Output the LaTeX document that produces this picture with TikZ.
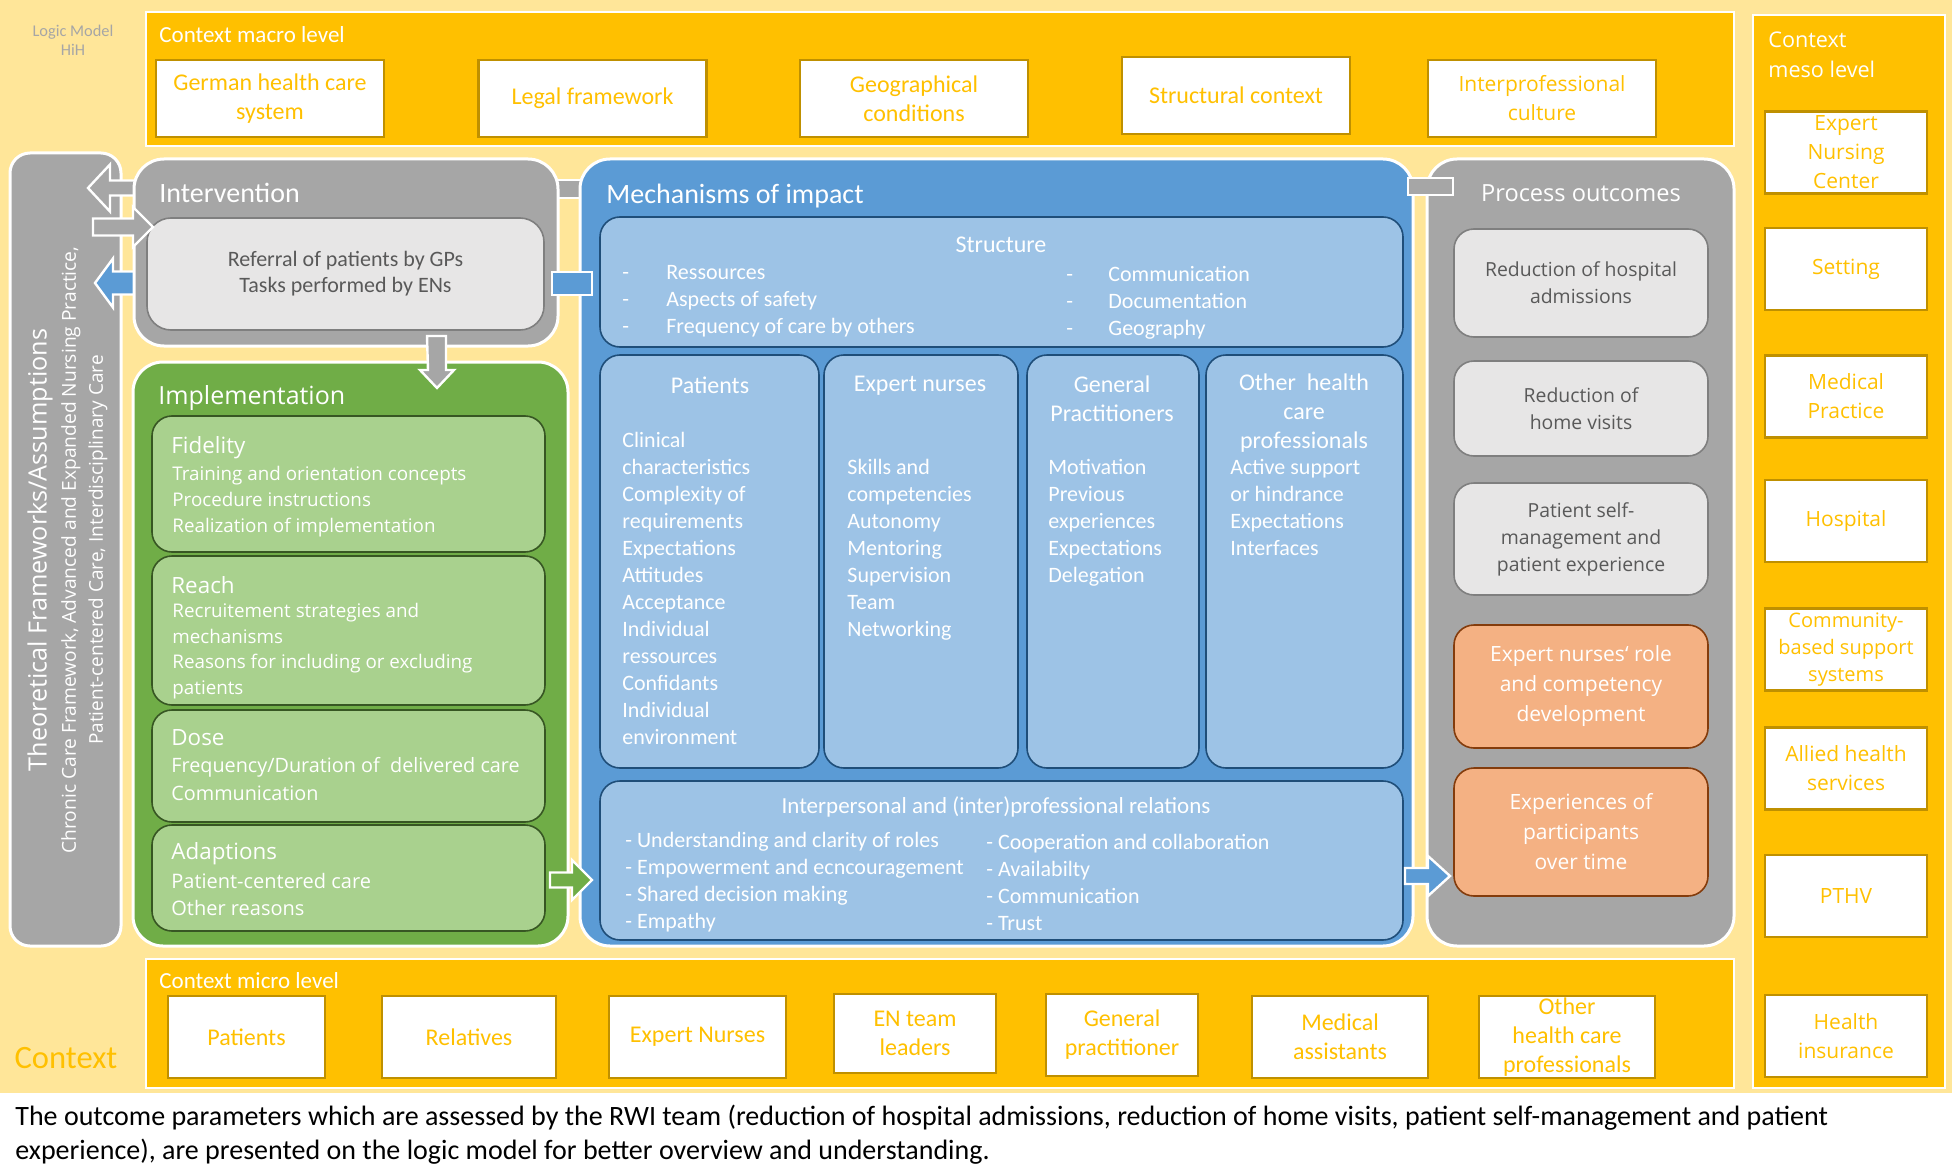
\documentclass[tikz,border=0pt]{standalone}
\usepackage{fontspec}
\setmainfont{Carlito}
\newfontfamily\segoe{Open Sans}
\usetikzlibrary{fit, positioning}

\definecolor{ctxpale}{HTML}{FFE699}
\definecolor{ctxgold}{HTML}{FFC000}
\definecolor{ctxedge}{HTML}{BF9000}
\definecolor{intgray}{HTML}{A6A6A6}
\definecolor{inngray}{HTML}{E7E6E6}
\definecolor{innedge}{HTML}{7F7F7F}
\definecolor{txtgray}{HTML}{595959}
\definecolor{mechblue}{HTML}{5B9BD5}
\definecolor{mechpale}{HTML}{9DC3E6}
\definecolor{mechedge}{HTML}{1F4E79}
\definecolor{impgreen}{HTML}{70AD47}
\definecolor{imppale}{HTML}{A9D18E}
\definecolor{impedge}{HTML}{375623}
\definecolor{outpeach}{HTML}{F4B183}
\definecolor{outedge}{HTML}{843C0C}

\newcommand{\fsz}[2]{\fontsize{#1}{#2}\selectfont}

\tikzset{
  ctxframe/.style={fill=ctxgold, draw=white, line width=1pt},
  ctxbox/.style={fill=white, draw=ctxedge, line width=1.2pt, text=ctxgold, align=center},
  macrobox/.style={ctxbox, minimum width=114pt, minimum height=38.5pt, font=\fsz{12}{14.5}},
  mesobox/.style={ctxbox, minimum width=81pt, minimum height=41pt, font=\segoe\fsz{10.5}{14.5}},
  microbox/.style={ctxbox, minimum height=41pt, font=\fsz{12}{14.5}},
  bigbox/.style={rounded corners=15pt, draw=white, line width=1.5pt},
  mechbox/.style={fill=mechpale, draw=mechedge, line width=0.8pt, rounded corners=10pt},
  impbox/.style={fill=imppale, draw=impedge, line width=0.8pt, rounded corners=10pt},
  outbox/.style={fill=inngray, draw=innedge, line width=0.8pt, rounded corners=10pt,
    minimum width=127pt, align=center, text=txtgray, font=\segoe\fsz{9.7}{13.5}},
  peachbox/.style={fill=outpeach, draw=outedge, line width=0.8pt, rounded corners=10pt,
    minimum width=127pt, align=center, text=white, font=\segoe\fsz{10.5}{15}},
  blockarrow/.style={draw=white, line width=1.2pt, line join=miter},
  mechhead/.style={white, align=center, font=\fsz{12}{14.3}},
  mechlist/.style={white, align=left, anchor=west, font=\fsz{11}{13.5}},
  imphead/.style={white, anchor=west, font=\segoe\fsz{11.2}{13}},
  implist/.style={white, align=left, anchor=west, font=\segoe\fsz{9.4}{13}}
}

\begin{document}
\begin{tikzpicture}[x=0.5pt, y=-0.5pt, inner sep=0pt]
\useasboundingbox (0,0) rectangle (1952,1166);
\fill[ctxpale] (0,0) rectangle (1952,1093);

% context levels
\node (macro) [ctxframe, fit={(146,12) (1734,146)}] {};
\node (micro) [ctxframe, fit={(146,959) (1734,1088)}] {};
\node (meso) [ctxframe, fit={(1753,15) (1945,1088)}] {};
\node (macrotitle) [anchor=west, white, font=\fsz{11.5}{13}] at (159,35) {Context macro level};
\node (microtitle) [anchor=west, white, font=\fsz{11.5}{13}] at (159,981) {Context micro level};
\node (mesotitle) [anchor=west, white, align=left, font=\segoe\fsz{10.8}{15}] at (1768,55) {Context\\meso level};
\node (logo) [intgray, align=center, font=\fsz{8.2}{9.5}] at (73,40) {Logic Model\\HiH};
\node (context) [ctxgold, font=\fsz{16.3}{18}] at (66,1058) {Context};

\node (gerhc) [macrobox] at (270,98.5) {German health care\\system};
\node (legal) [macrobox] at (592.5,98.5) {Legal framework};
\node (geo) [macrobox] at (914,98.5) {Geographical\\conditions};
\node (structctx) [macrobox] at (1236,95.5) {Structural context};
\node (ipcult) [macrobox, font=\segoe\fsz{10.5}{14.5}] at (1542,98.5) {Interprofessional\\culture};

\node (enc) [mesobox] at (1846,152.5) {Expert\\Nursing\\Center};
\node (setting) [mesobox] at (1846,269) {Setting};
\node (medprac) [mesobox] at (1846,396.5) {Medical\\Practice};
\node (hospital) [mesobox] at (1846,521) {Hospital};
\node (community) [mesobox, font=\segoe\fsz{10}{13.5}] at (1846,649.5) {Community-\\based support\\systems};
\node (allied) [mesobox] at (1846,768.5) {Allied health\\services};
\node (pthv) [mesobox] at (1846,896) {PTHV};
\node (insur) [mesobox] at (1846,1036) {Health\\insurance};

\node (mpat) [microbox, minimum width=78.5pt] at (246.5,1037) {Patients};
\node (mrel) [microbox, minimum width=87pt] at (469,1037) {Relatives};
\node (men) [microbox, minimum width=88.5pt] at (697.5,1037) {Expert Nurses};
\node (mlead) [microbox, minimum width=81pt, minimum height=39.5pt] at (915,1033.5) {EN team\\leaders};
\node (mgp) [microbox, minimum width=76pt] at (1122,1035) {General\\practitioner};
\node (mma) [microbox, minimum width=88pt] at (1340,1037) {Medical\\assistants};
\node (mohp) [microbox, minimum width=88pt] at (1567,1037) {Other\\health care\\professionals};

% theoretical frameworks
\node (theo) [fill=intgray, draw=white, line width=1.5pt, rounded corners=10pt, fit={(10,153) (121,946)}] {};
\node (theo1) [rotate=90, white, font=\segoe\fsz{12.6}{14}] at (40,550) {Theoretical Frameworks/Assumptions};
\node (theo2) [rotate=90, white, font=\segoe\fsz{9.6}{11}] at (71,550) {Chronic Care Framework, Advanced and Expanded Nursing Practice,};
\node (theo3) [rotate=90, white, font=\segoe\fsz{9.5}{11}] at (98,550) {Patient-centered Care, Interdisciplinary Care};

% arrows behind the intervention box
\draw[blockarrow, fill=intgray] (137,180.5) -- (110,180.5) -- (110,164.5) -- (88,188)
  -- (110,211.5) -- (110,195.5) -- (137,195.5) -- cycle;
\draw[blockarrow, fill=mechblue] (137,271.5) -- (113,271.5) -- (113,258.5) -- (95,283)
  -- (113,307.5) -- (113,294.5) -- (137,294.5) -- cycle;
\draw[blockarrow, fill=intgray] (550,180) rectangle (590,198);

% intervention
\node (interv) [bigbox, fill=intgray, fit={(134,159) (558,346)}] {};
\node (intervtitle) [anchor=west, white, font=\fsz{14}{16}] at (159,193) {Intervention};
\node (referral) [fill=inngray, draw=innedge, line width=0.8pt, rounded corners=12pt, align=center,
  minimum width=198.5pt, minimum height=56pt, text=txtgray, font=\fsz{11}{13}] at (345.5,274)
  {Referral of patients by GPs\\Tasks performed by ENs};
\draw[blockarrow, fill=intgray] (93,218.5) -- (133,218.5) -- (133,207) -- (153,227)
  -- (133,247) -- (133,235.5) -- (93,235.5) -- cycle;

% implementation
\node (impl) [bigbox, fill=impgreen, fit={(133,362) (568,946)}] {};
\node (impltitle) [anchor=west, white, font=\segoe\fsz{12.5}{14}] at (158,398) {Implementation};
\node (fid) [impbox, fit={(152,416) (545,552)}] {};
\node (reach) [impbox, fit={(152,556) (545,705)}] {};
\node (dose) [impbox, fit={(152,710) (545,822)}] {};
\node (adapt) [impbox, fit={(152,825) (545,931)}] {};
\node (fidhead) [imphead] at (171,448) {Fidelity};
\node (fidlist) [implist] at (172,502) {Training and orientation concepts\\Procedure instructions\\Realization of implementation};
\node (reachhead) [imphead] at (171,585) {Reach};
\node (reachlist) [implist, font=\segoe\fsz{9.4}{12.8}] at (172,651) {Recruitement strategies and\\mechanisms\\Reasons for including or excluding\\patients};
\node (dosehead) [imphead] at (171,738) {Dose};
\node (doselist) [implist, font=\segoe\fsz{9.9}{14}] at (171,779) {Frequency/Duration of\ \ delivered care\\Communication};
\node (adapthead) [imphead] at (171,854) {Adaptions};
\node (adaptlist) [implist, font=\segoe\fsz{10}{13.5}] at (171,894) {Patient-centered care\\Other reasons};

\draw[blockarrow, fill=intgray] (427,336) -- (446,336) -- (446,370) -- (454,370) -- (437,388)
  -- (420,370) -- (428,370) -- cycle;

% mechanisms of impact
\node (mech) [bigbox, fill=mechblue, fit={(580,159) (1413,946)}] {};
\node (mechtitle) [anchor=west, white, font=\fsz{14}{16}] at (606,196) {Mechanisms of impact};
\node (struct) [mechbox, fit={(600,217) (1403,347)}] {};
\node (structhead) [mechhead] at (1001,245) {Structure};
\node (structleft) [mechlist] at (622,301) {\makebox[22pt][l]{-}Ressources\\\makebox[22pt][l]{-}Aspects of safety\\\makebox[22pt][l]{-}Frequency of care by others};
\node (structright) [mechlist] at (1066,303) {\makebox[21pt][l]{-}Communication\\\makebox[21pt][l]{-}Documentation\\\makebox[21pt][l]{-}Geography};

\node (patcol) [mechbox, fit={(600,355) (819,768)}] {};
\node (encol) [mechbox, fit={(824,355) (1018,768)}] {};
\node (gpcol) [mechbox, fit={(1027,355) (1199,768)}] {};
\node (othcol) [mechbox, fit={(1206,355) (1403,768)}] {};
\node (pathead) [mechhead] at (710,385) {Patients};
\node (enhead) [mechhead] at (920,386) {Expert nurses};
\node (gphead) [mechhead] at (1112,399) {General\\Practitioners};
\node (othhead) [mechhead] at (1304,413) {Other\ \ health\\care\\professionals};
\node (patlist) [mechlist] at (622,588) {Clinical\\characteristics\\Complexity of\\requirements\\Expectations\\Attitudes\\Acceptance\\Individual\\ressources\\Confidants\\Individual\\environment};
\node (enlist) [mechlist] at (847,550) {Skills and\\competencies\\Autonomy\\Mentoring\\Supervision\\Team\\Networking};
\node (gplist) [mechlist] at (1048,523) {Motivation\\Previous\\experiences\\Expectations\\Delegation};
\node (othlist) [mechlist] at (1230,507) {Active support\\or hindrance\\Expectations\\Interfaces};

\node (rel) [mechbox, fit={(600,781) (1403,940)}] {};
\node (relhead) [mechhead, font=\fsz{11.5}{13.5}] at (996,807) {Interpersonal and (inter)professional relations};
\node (relleft) [mechlist] at (625,882) {- Understanding and clarity of roles\\- Empowerment and ecncouragement\\- Shared decision making\\- Empathy};
\node (relright) [mechlist] at (986,882) {- Cooperation and collaboration\\- Availabilty\\- Communication\\- Trust};

\draw[blockarrow, fill=mechblue] (552,272) rectangle (592,295);

% process outcomes
\node (proc) [bigbox, fill=intgray, fit={(1427,159) (1734,946)}] {};
\node (proctitle) [white, font=\segoe\fsz{11.8}{13}] at (1581,193) {Process outcomes};
\node (hosp) [outbox, minimum height=54pt] at (1581,283) {Reduction of hospital\\admissions};
\node (home) [outbox, minimum height=47.5pt] at (1581,408.5) {Reduction of\\home visits};
\node (selfm) [outbox, minimum height=56pt] at (1581,539) {Patient self-\\management and\\patient experience};
\node (role) [peachbox, minimum height=61.5pt] at (1581,686.5) {Expert nurses‘ role\\and competency\\development};
\node (exper) [peachbox, minimum height=64pt] at (1581,832) {Experiences of\\participants\\over time};

\draw[blockarrow, fill=intgray] (1408,178) rectangle (1453,195);

% arrows between the columns
\draw[blockarrow, fill=impgreen] (550,872.5) -- (572,872.5) -- (572,860) -- (592,880)
  -- (572,900) -- (572,887.5) -- (550,887.5) -- cycle;
\draw[blockarrow, fill=mechblue] (1405,868) -- (1428,868) -- (1428,856) -- (1450,876)
  -- (1428,896) -- (1428,884) -- (1405,884) -- cycle;

% caption
\node (caption) [anchor=west, align=left, font=\fsz{14}{17}] at (15,1135)
  {The outcome parameters which are assessed by the RWI team (reduction of hospital admissions, reduction of home visits, patient self-management and patient\\experience), are presented on the logic model for better overview and understanding.};
\end{tikzpicture}
\end{document}
